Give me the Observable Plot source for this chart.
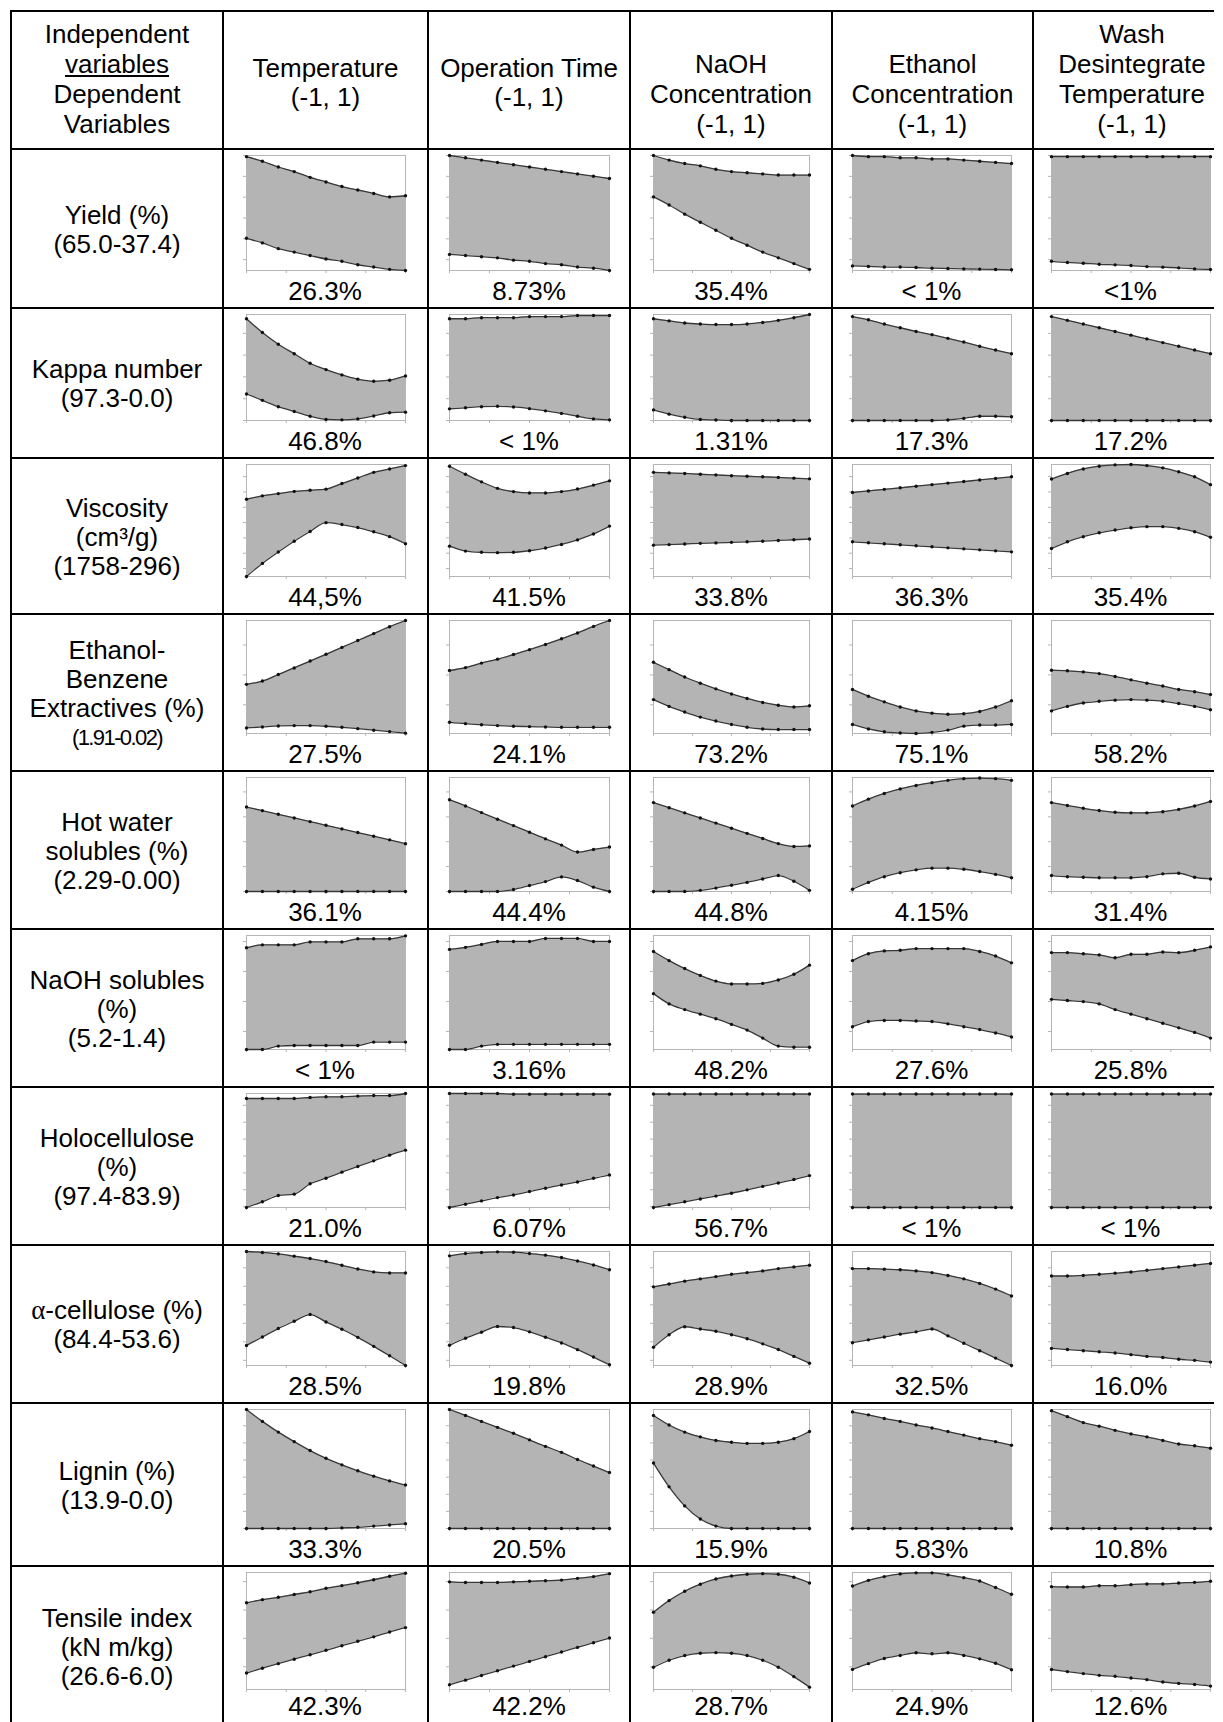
<!DOCTYPE html>
<html><head><meta charset="utf-8">
<script src="https://cdn.jsdelivr.net/npm/d3@7"></script>
<script src="https://cdn.jsdelivr.net/npm/@observablehq/plot@0.6"></script>
<style>
html,body{margin:0;padding:0;background:#fff;}
body{width:1223px;height:1722px;overflow:hidden;position:relative;font-family:"Liberation Sans",Arial,sans-serif;color:#000;}
#page{position:absolute;left:0;top:0;width:1223px;height:1722px;overflow:hidden;}
.hl{position:absolute;height:2px;background:#000;}
.vl{position:absolute;width:2px;background:#000;}
.txt{position:absolute;text-align:center;font-size:26px;line-height:29px;height:29px;white-space:nowrap;}
.greek{font-family:"Liberation Serif","DejaVu Serif",serif;font-size:27px;}
.mini{position:absolute;}
.mini svg{display:block;overflow:visible;}
</style></head><body><div id="page"></div>
<script>
// ---------------- data ----------------
const xs = [-1, -0.8, -0.6, -0.4, -0.2, 0, 0.2, 0.4, 0.6, 0.8, 1];

const colLabels = [
  ["Independent", "variables", "Dependent", "Variables"],
  ["Temperature", "(-1, 1)"],
  ["Operation Time", "(-1, 1)"],
  ["NaOH", "Concentration", "(-1, 1)"],
  ["Ethanol", "Concentration", "(-1, 1)"],
  ["Wash", "Desintegrate", "Temperature", "(-1, 1)"]
];

const rowLabels = [
  ["Yield (%)", "(65.0-37.4)"],
  ["Kappa number", "(97.3-0.0)"],
  ["Viscosity", "(cm³/g)", "(1758-296)"],
  ["Ethanol-", "Benzene", "Extractives (%)", "(1.91-0.02)"],
  ["Hot water", "solubles (%)", "(2.29-0.00)"],
  ["NaOH solubles", "(%)", "(5.2-1.4)"],
  ["Holocellulose", "(%)", "(97.4-83.9)"],
  ["α-cellulose (%)", "(84.4-53.6)"],
  ["Lignin (%)", "(13.9-0.0)"],
  ["Tensile index", "(kN m/kg)", "(26.6-6.0)"]
];

const rowMin = [37.4, 0.0, 296, 0.02, 0.00, 1.4, 83.9, 53.6, 0.0, 6.0];
const rowMax = [65.0, 97.3, 1758, 1.91, 2.29, 5.2, 97.4, 84.4, 13.9, 26.6];

const effects = [
  ["26.3%", "8.73%", "35.4%", "< 1%", "<1%"],
  ["46.8%", "< 1%", "1.31%", "17.3%", "17.2%"],
  ["44,5%", "41.5%", "33.8%", "36.3%", "35.4%"],
  ["27.5%", "24.1%", "73.2%", "75.1%", "58.2%"],
  ["36.1%", "44.4%", "44.8%", "4.15%", "31.4%"],
  ["< 1%", "3.16%", "48.2%", "27.6%", "25.8%"],
  ["21.0%", "6.07%", "56.7%", "< 1%", "< 1%"],
  ["28.5%", "19.8%", "28.9%", "32.5%", "16.0%"],
  ["33.3%", "20.5%", "15.9%", "5.83%", "10.8%"],
  ["42.3%", "42.2%", "28.7%", "24.9%", "12.6%"]
];

// values as fraction of each row's range (0 = min, 1 = max); one array per column
const yieldHi = [
  [0.99,0.95,0.90,0.86,0.81,0.77,0.73,0.70,0.67,0.64,0.65],
  [1.00,0.98,0.96,0.94,0.92,0.90,0.88,0.86,0.84,0.82,0.80],
  [1.00,0.96,0.93,0.91,0.88,0.86,0.85,0.84,0.83,0.83,0.83],
  [1.00,0.99,0.99,0.98,0.98,0.97,0.97,0.96,0.95,0.94,0.93],
  [0.99,0.99,0.99,0.99,0.99,0.99,0.99,0.99,0.99,0.99,0.99]
];
const yieldLo = [
  [0.28,0.24,0.19,0.16,0.13,0.10,0.08,0.05,0.03,0.01,0.00],
  [0.14,0.13,0.12,0.11,0.09,0.08,0.06,0.05,0.03,0.02,0.00],
  [0.64,0.57,0.49,0.42,0.35,0.28,0.22,0.16,0.11,0.06,0.01],
  [0.04,0.035,0.03,0.03,0.026,0.02,0.017,0.014,0.012,0.009,0.006],
  [0.08,0.07,0.063,0.054,0.049,0.043,0.034,0.029,0.023,0.014,0.009]
];
const kappaHi = [
  [0.96,0.83,0.72,0.63,0.54,0.48,0.43,0.39,0.37,0.38,0.42],
  [0.96,0.96,0.97,0.97,0.97,0.98,0.98,0.98,0.99,0.99,0.99],
  [0.96,0.94,0.92,0.91,0.905,0.905,0.91,0.925,0.945,0.97,1.0],
  [0.98,0.95,0.91,0.875,0.84,0.81,0.775,0.74,0.70,0.665,0.63],
  [0.98,0.945,0.91,0.875,0.84,0.805,0.77,0.735,0.70,0.665,0.63]
];
const kappaLo = [
  [0.25,0.19,0.13,0.085,0.04,0.01,0.006,0.015,0.043,0.073,0.079],
  [0.11,0.12,0.13,0.134,0.128,0.112,0.091,0.067,0.04,0.015,0.006],
  [0.10,0.06,0.03,0.01,0.005,0,0,0,0,0,0],
  [0,0,0,0,0,0,0.005,0.02,0.04,0.04,0.035],
  [0,0,0,0,0,0,0,0,0,0,0]
];
const viscHi = [
  [0.69,0.72,0.74,0.76,0.77,0.78,0.83,0.88,0.93,0.96,0.99],
  [0.985,0.913,0.845,0.787,0.758,0.746,0.746,0.758,0.781,0.816,0.854],
  [0.93,0.925,0.92,0.913,0.907,0.90,0.895,0.89,0.885,0.878,0.872],
  [0.75,0.764,0.778,0.792,0.806,0.82,0.834,0.848,0.862,0.876,0.89],
  [0.87,0.92,0.96,0.985,0.997,1.0,0.99,0.97,0.935,0.89,0.82]
];
const viscLo = [
  [0.0,0.117,0.219,0.315,0.402,0.481,0.464,0.437,0.399,0.356,0.292],
  [0.271,0.227,0.216,0.213,0.216,0.230,0.254,0.286,0.327,0.38,0.45],
  [0.28,0.285,0.29,0.296,0.30,0.305,0.31,0.315,0.322,0.328,0.335],
  [0.31,0.301,0.292,0.283,0.274,0.265,0.256,0.247,0.238,0.229,0.22],
  [0.25,0.31,0.355,0.39,0.415,0.435,0.445,0.445,0.43,0.40,0.35]
];
const extrHi = [
  [0.435,0.464,0.522,0.580,0.641,0.701,0.762,0.823,0.884,0.945,1.0],
  [0.557,0.583,0.623,0.658,0.699,0.742,0.788,0.838,0.890,0.948,1.0],
  [0.63,0.565,0.50,0.445,0.395,0.35,0.31,0.275,0.25,0.235,0.245],
  [0.39,0.33,0.28,0.235,0.20,0.18,0.17,0.175,0.195,0.235,0.29],
  [0.56,0.555,0.545,0.53,0.505,0.475,0.445,0.42,0.39,0.37,0.345]
];
const extrLo = [
  [0.049,0.058,0.067,0.070,0.070,0.064,0.055,0.043,0.029,0.017,0.003],
  [0.099,0.087,0.078,0.070,0.064,0.061,0.058,0.055,0.055,0.055,0.055],
  [0.30,0.24,0.19,0.145,0.11,0.08,0.055,0.04,0.035,0.035,0.035],
  [0.08,0.04,0.015,0.005,0.0,0.01,0.03,0.065,0.075,0.075,0.08],
  [0.2,0.24,0.27,0.285,0.295,0.30,0.295,0.285,0.265,0.24,0.21]
];
const hotHi = [
  [0.741,0.709,0.677,0.645,0.613,0.581,0.549,0.517,0.485,0.453,0.419],
  [0.805,0.750,0.692,0.634,0.578,0.520,0.462,0.407,0.346,0.369,0.39],
  [0.78,0.735,0.69,0.645,0.60,0.555,0.51,0.465,0.42,0.395,0.40],
  [0.75,0.81,0.86,0.90,0.93,0.955,0.975,0.99,0.995,0.99,0.975],
  [0.78,0.755,0.73,0.71,0.695,0.69,0.69,0.70,0.72,0.75,0.79]
];
const hotLo = [
  [0,0,0,0,0,0,0,0,0,0,0],
  [0,0,0,0,0.017,0.052,0.087,0.128,0.096,0.038,0],
  [0,0,0,0.01,0.03,0.055,0.08,0.11,0.14,0.09,0.01],
  [0.02,0.08,0.13,0.165,0.19,0.205,0.205,0.195,0.175,0.15,0.12],
  [0.14,0.13,0.125,0.12,0.12,0.12,0.13,0.155,0.16,0.125,0.11]
];
const naohHi = [
  [0.892,0.918,0.918,0.918,0.944,0.944,0.944,0.971,0.971,0.971,0.997],
  [0.878,0.896,0.922,0.948,0.948,0.948,0.974,0.974,0.974,0.948,0.948],
  [0.86,0.78,0.71,0.65,0.60,0.575,0.575,0.58,0.61,0.66,0.74],
  [0.78,0.84,0.865,0.87,0.885,0.885,0.885,0.885,0.86,0.82,0.76],
  [0.85,0.85,0.84,0.83,0.805,0.835,0.835,0.855,0.85,0.87,0.9]
];
const naohLo = [
  [0,0,0.03,0.035,0.035,0.035,0.035,0.035,0.065,0.065,0.065],
  [0,0,0.03,0.045,0.045,0.045,0.045,0.045,0.045,0.045,0.045],
  [0.49,0.40,0.35,0.31,0.27,0.22,0.17,0.10,0.03,0.02,0.02],
  [0.2,0.245,0.255,0.255,0.25,0.245,0.225,0.2,0.175,0.145,0.11],
  [0.44,0.43,0.42,0.40,0.35,0.31,0.27,0.23,0.19,0.15,0.1]
];
const holoHi = [
  [0.956,0.956,0.956,0.956,0.965,0.971,0.971,0.977,0.982,0.982,1.0],
  [1,1,1,1,0.994,0.994,0.994,0.994,0.994,0.994,0.994],
  [0.995,0.995,0.995,0.995,0.995,0.995,0.995,0.995,0.995,0.995,0.995],
  [0.995,0.995,0.995,0.995,0.995,0.995,0.995,0.995,0.995,0.995,0.995],
  [0.995,0.995,0.995,0.995,0.995,0.995,0.995,0.995,0.995,0.995,0.995]
];
const holoLo = [
  [0,0.05,0.105,0.117,0.208,0.257,0.31,0.36,0.409,0.459,0.503],
  [0,0.029,0.058,0.087,0.110,0.140,0.169,0.198,0.224,0.256,0.285],
  [0,0.025,0.05,0.075,0.10,0.125,0.155,0.185,0.215,0.245,0.28],
  [0,0,0,0,0,0,0,0,0,0,0],
  [0,0,0,0,0,0,0,0,0,0,0]
];
const alphaHi = [
  [1.0,0.991,0.979,0.959,0.938,0.912,0.879,0.847,0.821,0.812,0.812],
  [0.962,0.982,0.991,0.997,0.994,0.982,0.968,0.947,0.917,0.882,0.84],
  [0.69,0.715,0.74,0.76,0.78,0.80,0.815,0.83,0.85,0.865,0.88],
  [0.85,0.85,0.845,0.84,0.83,0.815,0.79,0.76,0.72,0.67,0.61],
  [0.785,0.785,0.79,0.8,0.81,0.82,0.835,0.85,0.865,0.88,0.895]
];
const alphaLo = [
  [0.176,0.25,0.324,0.388,0.447,0.382,0.318,0.247,0.168,0.085,0.0],
  [0.177,0.239,0.292,0.342,0.333,0.295,0.248,0.198,0.139,0.074,0.006],
  [0.16,0.27,0.34,0.32,0.30,0.27,0.235,0.19,0.14,0.08,0.02],
  [0.2,0.225,0.25,0.275,0.295,0.32,0.26,0.195,0.13,0.065,0.0],
  [0.15,0.14,0.13,0.12,0.11,0.095,0.08,0.07,0.055,0.045,0.03]
];
const ligninHi = [
  [1.0,0.90,0.81,0.73,0.655,0.59,0.535,0.485,0.44,0.40,0.365],
  [1.0,0.95,0.9,0.85,0.80,0.745,0.69,0.64,0.58,0.525,0.47],
  [0.95,0.87,0.81,0.77,0.74,0.725,0.715,0.715,0.725,0.755,0.815],
  [0.98,0.955,0.925,0.9,0.87,0.845,0.815,0.785,0.755,0.73,0.70],
  [0.99,0.94,0.89,0.86,0.825,0.795,0.77,0.74,0.71,0.695,0.675]
];
const ligninLo = [
  [0,0,0,0,0,0,0.005,0.01,0.02,0.03,0.04],
  [0,0,0,0,0,0,0,0,0,0,0],
  [0.55,0.35,0.19,0.08,0.02,0,0,0,0,0,0],
  [0,0,0,0,0,0,0,0,0,0,0],
  [0,0,0,0,0,0,0,0,0,0,0]
];
const tensileHi = [
  [0.741,0.768,0.788,0.812,0.835,0.865,0.888,0.912,0.938,0.968,0.994],
  [0.92,0.915,0.915,0.915,0.92,0.925,0.93,0.935,0.95,0.965,0.99],
  [0.66,0.76,0.84,0.90,0.945,0.97,0.985,0.99,0.985,0.96,0.91],
  [0.884,0.933,0.965,0.988,0.997,0.997,0.980,0.956,0.927,0.872,0.814],
  [0.879,0.876,0.876,0.887,0.887,0.896,0.902,0.902,0.910,0.916,0.925]
];
const tensileLo = [
  [0.141,0.182,0.221,0.259,0.297,0.335,0.374,0.412,0.450,0.491,0.529],
  [0.04,0.08,0.12,0.16,0.20,0.24,0.28,0.32,0.36,0.40,0.44],
  [0.19,0.25,0.29,0.31,0.315,0.31,0.29,0.25,0.19,0.11,0.02],
  [0.172,0.221,0.265,0.291,0.314,0.305,0.314,0.291,0.262,0.224,0.169],
  [0.171,0.153,0.136,0.121,0.113,0.098,0.084,0.064,0.052,0.043,0.029]
];

const upper = [yieldHi, kappaHi, viscHi, extrHi, hotHi, naohHi, holoHi, alphaHi, ligninHi, tensileHi];
const lower = [yieldLo, kappaLo, viscLo, extrLo, hotLo, naohLo, holoLo, alphaLo, ligninLo, tensileLo];

// ---------------- layout ----------------
const colX = [11, 223, 428, 630, 832, 1033];
const tableRight = 1214;
const rowY = [11, 149, 308, 458, 614, 771, 929, 1087, 1245, 1403, 1566, 1727];
const colCenter = [117, 325.5, 529, 731, 932.5, 1132];
const headerLineY = [[34,64,94,124],[68,97],[68,97],[64,94,124],[64,94,124],[34,64,94,124]];
const boxOffL = [22.5, 21, 23, 20, 18];
const boxW = [159, 160, 156, 159, 159];
const M = {l: 5, r: 4, t: 4, b: 5};
const pageH = 1722;

const page = document.getElementById("page");
function el(cls, css, txt) {
  const d = document.createElement("div");
  d.className = cls;
  Object.assign(d.style, css);
  if (txt !== undefined) d.textContent = txt;
  page.appendChild(d);
  return d;
}
function textLine(str, cx, cy, w, extra) {
  const d = el("txt", {left: (cx - w / 2) + "px", top: (cy - 14.5) + "px", width: w + "px"});
  if (str.startsWith("α")) {
    const g = document.createElement("span");
    g.className = "greek";
    g.textContent = "α";
    d.appendChild(g);
    d.appendChild(document.createTextNode(str.slice(1)));
  } else {
    d.textContent = str;
  }
  if (extra) Object.assign(d.style, extra);
  return d;
}

// header
colLabels.forEach((lines, c) => {
  lines.forEach((s, i) => {
    const d = textLine(s, colCenter[c], headerLineY[c][i], 200);
    if (c === 0 && i === 1) d.style.textDecoration = "underline";
  });
});

// row labels
rowLabels.forEach((lines, r) => {
  const cy = (rowY[r + 1] + Math.min(rowY[r + 2], pageH + 5)) / 2 + 1;
  const step = 29;
  lines.forEach((s, i) => {
    const y = cy + (i - (lines.length - 1) / 2) * step;
    const extra = (r === 3 && i === 3) ? {fontSize: "22px", letterSpacing: "-1.6px"} : null;
    textLine(s, colCenter[0], y, 210, extra);
  });
});

function miniPlot(r, c, w, h) {
  const hi = upper[r][c], lo = lower[r][c];
  const data = xs.map((x, i) => ({x, hi: hi[i], lo: lo[i]}));
  const span = rowMax[r] - rowMin[r];
  const yt = d3.ticks(rowMin[r], rowMax[r], 5).map(t => (t - rowMin[r]) / span).filter(v => v >= -1e-9 && v <= 1 + 1e-9);
  const grey = "#b5b5b5";
  return Plot.plot({
    width: w + M.l + M.r, height: h + M.t + M.b,
    marginLeft: M.l, marginRight: M.r, marginTop: M.t, marginBottom: M.b,
    x: {domain: [-1, 1]},
    y: {domain: [0, 1]},
    style: {background: "transparent", overflow: "visible"},
    marks: [
      Plot.areaY(data, {x: "x", y1: "lo", y2: "hi", fill: "#b4b4b4", curve: "monotone-x"}),
      Plot.frame({stroke: grey, strokeWidth: 1}),
      Plot.axisX({ticks: [-1, -0.5, 0, 0.5, 1], tickSize: 3, tickFormat: () => "", stroke: grey, label: null}),
      Plot.axisY({ticks: yt, tickSize: 3, tickFormat: () => "", stroke: grey, label: null}),
      Plot.lineY(data, {x: "x", y: "hi", stroke: "#383838", strokeWidth: 1.3, curve: "monotone-x"}),
      Plot.lineY(data, {x: "x", y: "lo", stroke: "#383838", strokeWidth: 1.3, curve: "monotone-x"}),
      Plot.dot(data, {x: "x", y: "hi", r: 1.7, fill: "#111", stroke: "none"}),
      Plot.dot(data, {x: "x", y: "lo", r: 1.7, fill: "#111", stroke: "none"})
    ]
  });
}

for (let r = 0; r < 10; r++) {
  const top = rowY[r + 1], bottom = rowY[r + 2];
  const bT = top + 6, bB = bottom - 38, h = bB - bT;
  const labelY = Math.min(bottom - 17, pageH - 16);
  for (let c = 0; c < 5; c++) {
    const bL = colX[c + 1] + boxOffL[c], w = boxW[c];
    const holder = el("mini", {left: (bL - M.l) + "px", top: (bT - M.t) + "px"});
    holder.appendChild(miniPlot(r, c, w, h));
    textLine(effects[r][c], bL + w / 2, labelY, w + 40);
  }
}

// table rules
rowY.forEach(y => el("hl", {left: "10px", top: (y - 1) + "px", width: (tableRight - 10) + "px"}));
colX.forEach(x => el("vl", {left: (x - 1) + "px", top: "10px", height: (rowY[rowY.length - 1] - 10) + "px"}));
</script></body></html>
